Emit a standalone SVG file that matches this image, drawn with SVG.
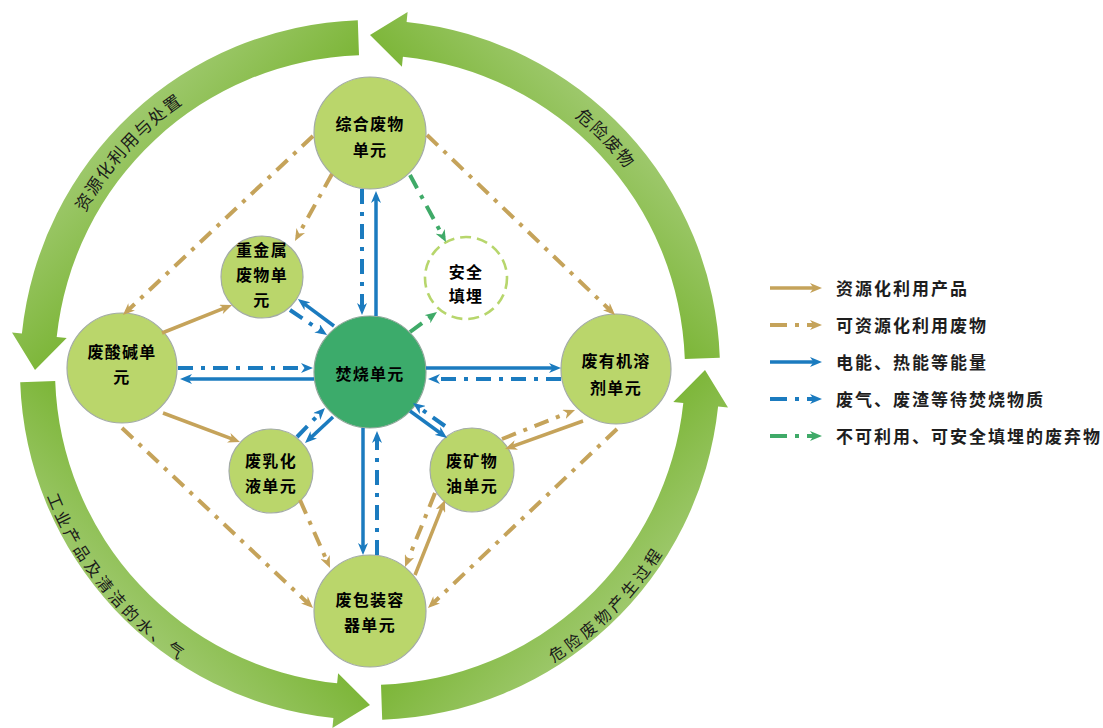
<svg xmlns="http://www.w3.org/2000/svg" width="1103" height="728" viewBox="0 0 1103 728">
<style>
  .ring{stroke:none}
  .node{fill:#bad66b;stroke:#a3aba6;stroke-width:1.2}
  .core{fill:#3cab6b;stroke:#8fa89a;stroke-width:1.2}
  .safe{fill:#ffffff;stroke:#b7d66c;stroke-width:2.6;stroke-dasharray:11 6}
  .nt{font-family:"Noto Sans CJK SC","Noto Sans",sans-serif;font-size:16px;font-weight:700;fill:#000;text-anchor:middle;letter-spacing:1.3px}
  .at{font-family:"Noto Sans CJK SC","Noto Sans",sans-serif;fill:#1a1a1a;font-weight:400}
  .lt{font-family:"Noto Sans CJK SC","Noto Sans",sans-serif;font-size:17px;font-weight:700;fill:#1e1e1e;letter-spacing:2px}
  .ts{stroke:#c5a35a;stroke-width:3.5;fill:none;marker-end:url(#aTan)}
  .td{stroke:#c5a35a;stroke-width:4;fill:none;stroke-dasharray:15 8 4 8;marker-end:url(#aTan)}
  .bs{stroke:#1b7bbf;stroke-width:3.5;fill:none;marker-end:url(#aBlue)}
  .bd{stroke:#1b7bbf;stroke-width:4;fill:none;stroke-dasharray:15 8 4 8;marker-end:url(#aBlue)}
  .gd{stroke:#3faa68;stroke-width:4;fill:none;stroke-dasharray:15 8 4 8;marker-end:url(#aGreen)}
</style>
<defs>
  <marker id="aTan" viewBox="0 0 12 10" refX="7" refY="5" markerWidth="12" markerHeight="10" markerUnits="userSpaceOnUse" orient="auto"><path d="M0,0 L12,5 L0,10 L3.5,5 Z" fill="#c5a35a"/></marker>
  <marker id="aBlue" viewBox="0 0 12 10" refX="7" refY="5" markerWidth="12" markerHeight="10" markerUnits="userSpaceOnUse" orient="auto"><path d="M0,0 L12,5 L0,10 L3.5,5 Z" fill="#1b7bbf"/></marker>
  <marker id="aGreen" viewBox="0 0 12 10" refX="7" refY="5" markerWidth="12" markerHeight="10" markerUnits="userSpaceOnUse" orient="auto"><path d="M0,0 L12,5 L0,10 L3.5,5 Z" fill="#3faa68"/></marker>
  <linearGradient id="g1" gradientUnits="userSpaceOnUse" x1="125" y1="125" x2="205" y2="205"><stop offset="0" stop-color="#9dc86b"/><stop offset="1" stop-color="#7db639"/></linearGradient>
  <linearGradient id="g2" gradientUnits="userSpaceOnUse" x1="125" y1="615" x2="205" y2="535"><stop offset="0" stop-color="#9dc86b"/><stop offset="1" stop-color="#7db639"/></linearGradient>
  <linearGradient id="g3" gradientUnits="userSpaceOnUse" x1="615" y1="615" x2="535" y2="535"><stop offset="0" stop-color="#9dc86b"/><stop offset="1" stop-color="#7db639"/></linearGradient>
  <linearGradient id="g4" gradientUnits="userSpaceOnUse" x1="615" y1="125" x2="535" y2="205"><stop offset="0" stop-color="#9dc86b"/><stop offset="1" stop-color="#7db639"/></linearGradient>
  <path id="tp1" d="M44.5,370 A325.5,325.5 0 0 1 370,44.5"/>
  <path id="tp4" d="M370,44.5 A325.5,325.5 0 0 1 695.5,370"/>
  <path id="tp2" d="M23,370 A347,347 0 0 0 370,717"/>
  <path id="tp3" d="M370,715.5 A345.5,345.5 0 0 0 715.5,370"/>
</defs>

<g id="rings">
  <path class="ring" fill="url(#g1)" d="M357.8,20.2 A350,350 0 0 0 21.9,333.4 L12,332.4 L35,370 L66.7,338.1 L56.7,337.1 A315,315 0 0 1 359,55.2 Z"/>
  <path class="ring" fill="url(#g2)" d="M20.2,382.2 A350,350 0 0 0 333.4,718.1 L332.4,728 L370,705 L338.1,673.3 L337.1,683.3 A315,315 0 0 1 55.2,381 Z"/>
  <path class="ring" fill="url(#g3)" d="M382.2,719.8 A350,350 0 0 0 718.1,406.6 L728,407.6 L705,370 L673.3,401.9 L683.3,402.9 A315,315 0 0 1 381,684.8 Z"/>
  <path class="ring" fill="url(#g4)" d="M719.8,357.8 A350,350 0 0 0 406.6,21.9 L407.6,12 L370,35 L401.9,66.7 L402.9,56.7 A315,315 0 0 1 684.8,359 Z"/>
  <text class="at" font-size="17" letter-spacing="1.6"><textPath href="#tp1" startOffset="46.7%" text-anchor="middle">资源化利用与处置</textPath></text>
  <text class="at" font-size="17" letter-spacing="1.6"><textPath href="#tp4" startOffset="50.6%" text-anchor="middle">危险废物</textPath></text>
  <text class="at" font-size="16" letter-spacing="3.7"><textPath href="#tp2" startOffset="43.6%" text-anchor="middle">工业产品及清洁的水、气</textPath></text>
  <text class="at" font-size="16" letter-spacing="3.8"><textPath href="#tp3" startOffset="50.3%" text-anchor="middle">危险废物产生过程</textPath></text>
</g>

<g id="node-zonghe"><circle class="node" cx="370" cy="133" r="56"/><text class="nt" x="370" y="130">综合废物</text><text class="nt" x="370" y="156">单元</text></g>
<g id="node-zhongjinshu"><circle class="node" cx="262" cy="277" r="41"/><text class="nt" x="262" y="256">重金属</text><text class="nt" x="262" y="281">废物单</text><text class="nt" x="262" y="306">元</text></g>
<g id="node-anquan"><circle class="safe" cx="466" cy="278" r="41"/><text class="nt" x="466" y="278">安全</text><text class="nt" x="466" y="302">填埋</text></g>
<g id="node-suanjian"><circle class="node" cx="122" cy="368" r="55"/><text class="nt" x="122" y="358">废酸碱单</text><text class="nt" x="122" y="383">元</text></g>
<g id="node-fenshao"><circle class="core" cx="370" cy="372" r="56"/><text class="nt" x="370" y="380">焚烧单元</text></g>
<g id="node-youji"><circle class="node" cx="616" cy="369" r="55"/><text class="nt" x="616" y="367">废有机溶</text><text class="nt" x="616" y="394">剂单元</text></g>
<g id="node-ruhua"><circle class="node" cx="271" cy="471" r="42"/><text class="nt" x="271" y="467">废乳化</text><text class="nt" x="271" y="492">液单元</text></g>
<g id="node-kuangwu"><circle class="node" cx="472" cy="470" r="42"/><text class="nt" x="472" y="467">废矿物</text><text class="nt" x="472" y="492">油单元</text></g>
<g id="node-baozhuang"><circle class="node" cx="370" cy="611" r="56"/><text class="nt" x="370" y="606">废包装容</text><text class="nt" x="370" y="631">器单元</text></g>

<g id="connectors">
  <line class="td" x1="332" y1="174" x2="297.4" y2="236.6"/>
  <line class="td" x1="313" y1="136" x2="126.6" y2="311.6"/>
  <line class="td" x1="427" y1="135" x2="611.4" y2="311.5"/>
  <line class="td" x1="122" y1="428" x2="309.4" y2="604.6"/>
  <line class="td" x1="617" y1="429" x2="431.6" y2="604.6"/>
  <line class="td" x1="300" y1="500" x2="328" y2="563.4"/>
  <line class="td" x1="502" y1="439" x2="570.4" y2="411.8"/>
  <line class="td" x1="435" y1="493" x2="406.9" y2="562.4"/>
  <line class="ts" x1="162" y1="333" x2="227.4" y2="306.9"/>
  <line class="ts" x1="163" y1="413" x2="235.3" y2="440.2"/>
  <line class="ts" x1="583" y1="421" x2="509.7" y2="447.3"/>
  <line class="ts" x1="415" y1="575" x2="443.1" y2="504.6"/>
  <line class="bs" x1="376" y1="316" x2="376" y2="196"/>
  <line class="bs" x1="363" y1="428" x2="363" y2="550"/>
  <line class="bs" x1="426" y1="368" x2="556" y2="368"/>
  <line class="bs" x1="314" y1="379" x2="185" y2="379"/>
  <line class="bs" x1="334" y1="326" x2="301.9" y2="302.1"/>
  <line class="bs" x1="333" y1="417" x2="308.7" y2="439.6"/>
  <line class="bs" x1="410" y1="411" x2="443" y2="435"/>
  <line class="bd" x1="362" y1="189" x2="362" y2="310"/>
  <line class="bd" x1="377" y1="555" x2="377" y2="436"/>
  <line class="bd" x1="561" y1="379" x2="433" y2="379"/>
  <line class="bd" x1="178" y1="368" x2="308" y2="368"/>
  <line class="bd" x1="290" y1="310" x2="322.9" y2="332.2"/>
  <line class="bd" x1="297" y1="437" x2="321.5" y2="411.5"/>
  <line class="bd" x1="445" y1="426" x2="417" y2="406"/>
  <line class="gd" x1="410" y1="175" x2="443.6" y2="237.6"/>
  <line class="gd" x1="410" y1="332" x2="433" y2="315"/>
</g>

<g id="legend">
  <line class="ts" x1="770" y1="288" x2="817" y2="288"/>
  <line class="td" x1="770" y1="325" x2="817" y2="325" style="stroke-dasharray:17 8 4 8"/>
  <line class="bs" x1="770" y1="362" x2="817" y2="362"/>
  <line class="bd" x1="770" y1="399" x2="817" y2="399" style="stroke-dasharray:17 8 4 8"/>
  <line class="gd" x1="770" y1="436" x2="817" y2="436" style="stroke-dasharray:17 8 4 8"/>
  <text class="lt" x="836" y="295">资源化利用产品</text>
  <text class="lt" x="836" y="332">可资源化利用废物</text>
  <text class="lt" x="836" y="369">电能、热能等能量</text>
  <text class="lt" x="836" y="406">废气、废渣等待焚烧物质</text>
  <text class="lt" x="836" y="443">不可利用、可安全填埋的废弃物</text>
</g>
</svg>
